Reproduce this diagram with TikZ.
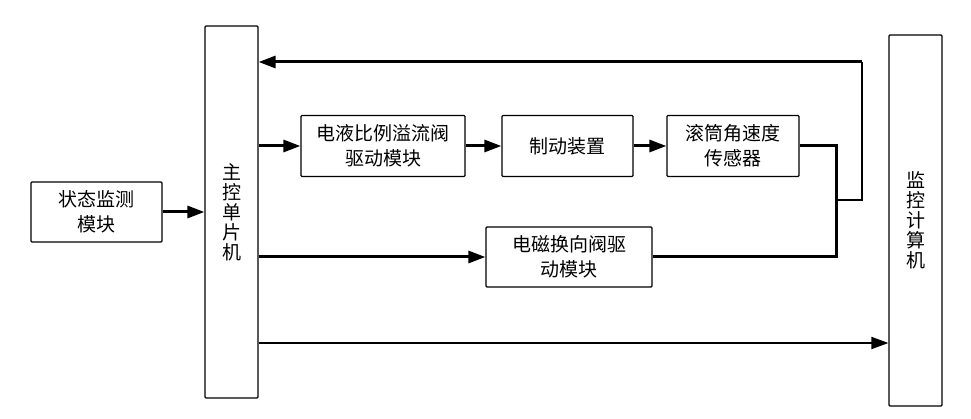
\documentclass[tikz,border=0pt]{standalone}
\usepackage{fontspec}
\setmainfont{Noto Sans CJK SC}
\usetikzlibrary{arrows.meta,positioning}

\begin{document}
\begin{tikzpicture}[x=1pt, y=-1pt, >={Triangle[length=17pt,width=12pt]},
  blk/.style={draw, line width=1.2pt, rounded corners=1pt, inner sep=0pt, align=center,
    font=\fontsize{19}{25}\selectfont},
  col/.style={blk, minimum width=53pt, font=\fontsize{19}{20}\selectfont},
  wire/.style={line width=3pt}]

\useasboundingbox (0,0) rectangle (971,419);

% Nodes
\node[col, minimum height=372pt] (mcu) at (231.5,212) {主\\控\\单\\片\\机};
\node[blk, minimum width=131pt, minimum height=60pt] (state) at (96.5,212) {状态监测\\模块};
\node[blk, minimum width=164pt, minimum height=61pt] (ehp) at (383,146) {电液比例溢流阀\\驱动模块};
\node[blk, minimum width=131pt, minimum height=61pt] (brake) at (567.5,146) {制动装置};
\node[blk, minimum width=132pt, minimum height=61pt] (sensor) at (733,146) {滚筒角速度\\传感器};
\node[blk, minimum width=166pt, minimum height=60pt] (sol) at (569,257) {电磁换向阀驱\\动模块};
\node[col, minimum height=371pt] (pc) at (915.5,220.5) {监\\控\\计\\算\\机};

\coordinate (jn) at (836,200);
\coordinate (fb) at (862,62);

% Forward path
\draw[wire, ->] (state) -- (mcu);
\draw[wire, ->] (mcu.east |- ehp) -- (ehp);
\draw[wire, ->] (ehp) -- (brake);
\draw[wire, ->] (brake) -- (sensor);
\draw[wire, ->] (mcu.east |- sol) -- (sol);
\draw[line width=1.8pt, ->] (mcu.east |- 0,343) -- (pc.west |- 0,343);

% Feedback
\draw[wire] (sensor.east) -| (jn);
\draw[wire] (sol.east) -| (jn);
\draw[line width=1.8pt] (jn) -| (fb);
\draw[wire, ->] (fb) -- (mcu.east |- fb);

\end{tikzpicture}
\end{document}
